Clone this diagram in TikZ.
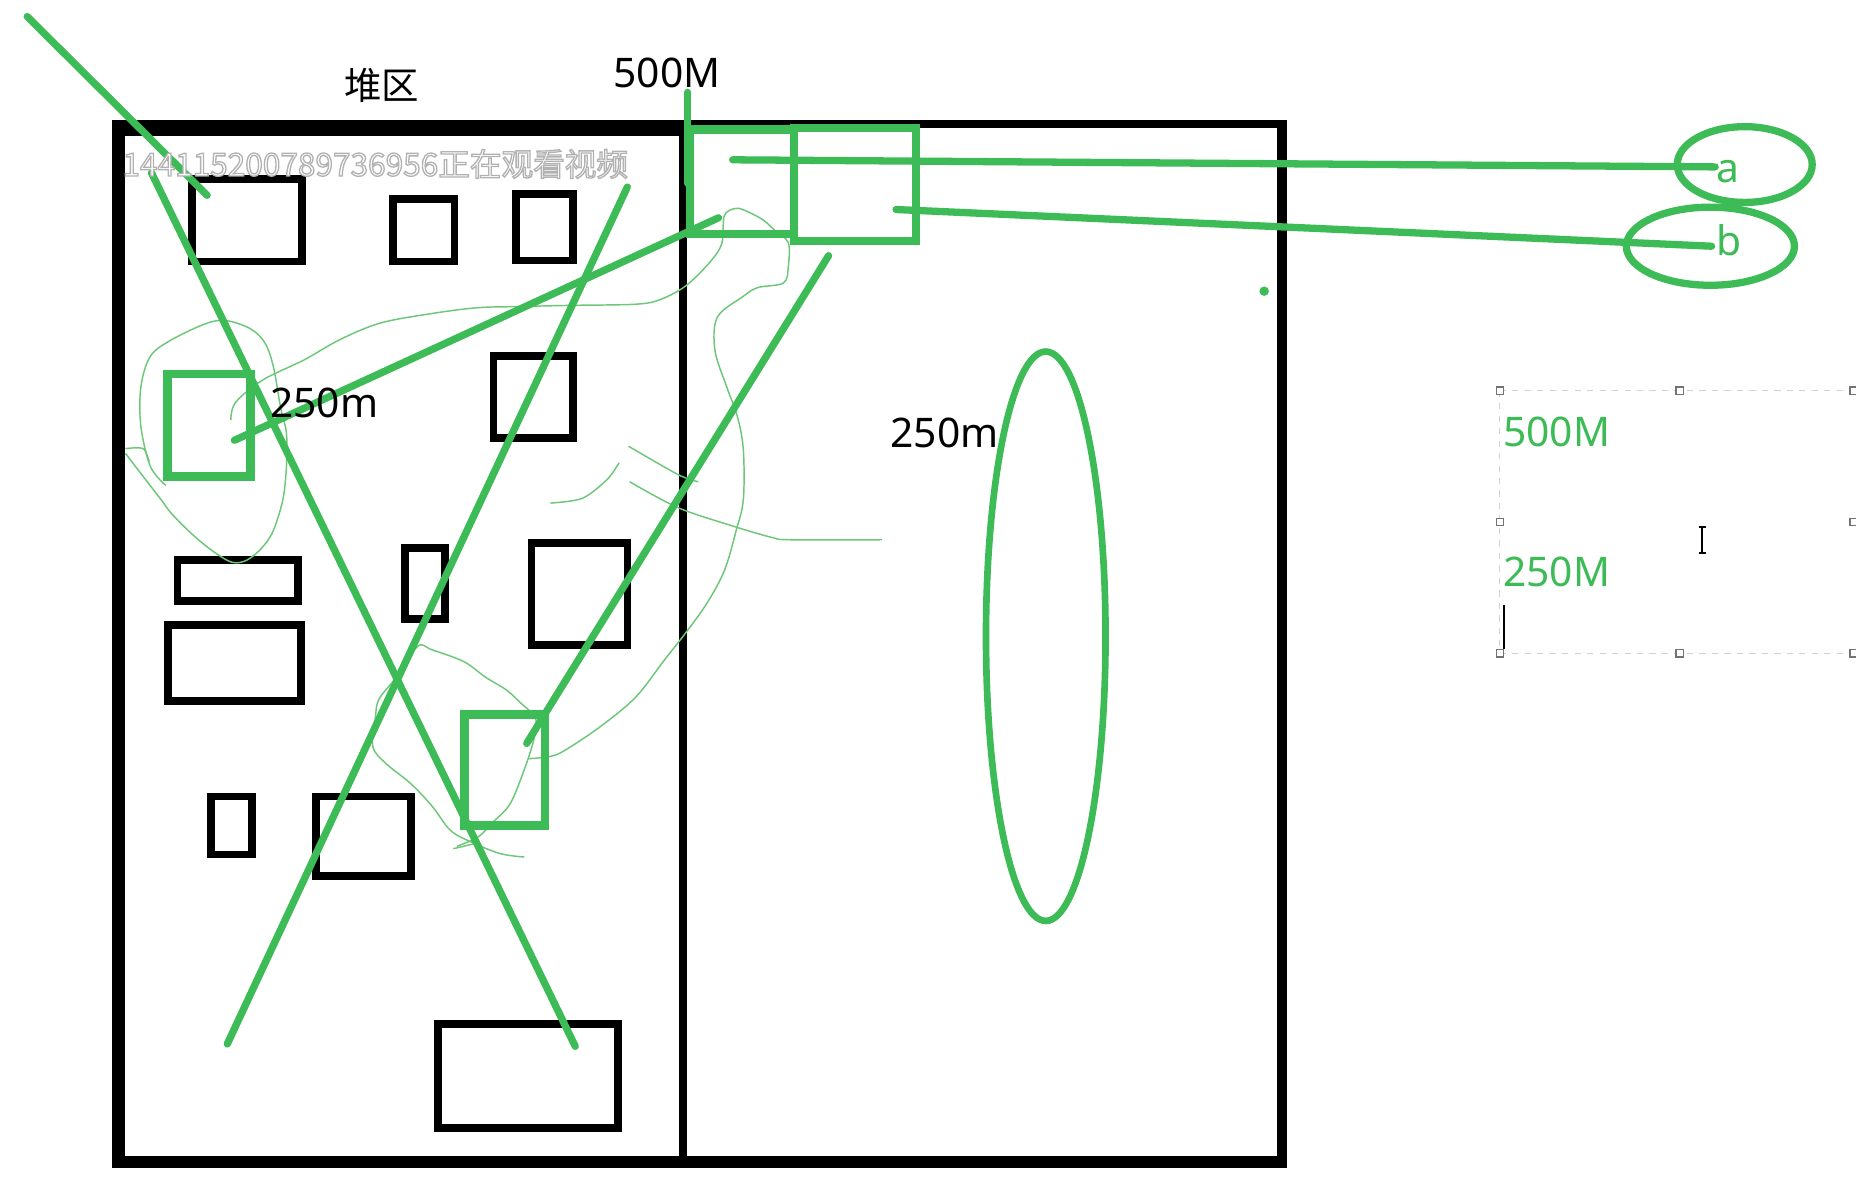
\documentclass[tikz,border=0pt]{standalone}
\usepackage{fontspec}
\setmainfont{Noto Sans}
\newfontfamily\cjk{Noto Sans CJK SC}
\definecolor{gc}{RGB}{61,187,86}
\definecolor{gt}{RGB}{108,199,120}
\newcommand\outlinedtext[1]{\special{pdf:literal direct 2 Tr 0.32 w 0.7 G}#1\special{pdf:literal direct 0 Tr}}
\begin{document}
\begin{tikzpicture}[x=0.1mm,y=-0.1mm,
  blk/.style={draw=black,line width=1.85pt},
  grect/.style={draw=gc,line width=2pt,line join=miter},
  gline/.style={draw=gc,line width=1.75pt,line cap=round},
  thinc/.style={draw=gt,line width=0.35pt},
  lbl/.style={inner sep=0pt,font=\fontsize{9.8}{11}\selectfont},
  glbl/.style={lbl,text=gc},
  wm/.style={inner sep=0pt,font=\cjk\fontsize{7.6}{9}\selectfont},
  hdl/.style={draw=black!55,fill=white,line width=0.3pt},
  selb/.style={draw=black!18,line width=0.3pt,dash pattern=on 1.5pt off 1.5pt}]
\useasboundingbox (0,0) rectangle (1568,1009);
\fill[white] (0,0) rectangle (1568,1009);

% frame
\fill[black] (95,101) rectangle (106,987);
\fill[black] (95,101) rectangle (579,115);
\fill[black] (575,101) rectangle (1087,108);
\fill[black] (1079,101) rectangle (1087,987);
\fill[black] (95,977) rectangle (1087,987);
\fill[black] (574,101) rectangle (580,987);

% black blocks
\draw[blk] (162,151) rectangle (255,221);
\draw[blk] (332,168) rectangle (384,221);
\draw[blk] (436,164) rectangle (484,220);
\draw[blk] (417,301) rectangle (484,370);
\draw[blk] (150,473) rectangle (252,508);
\draw[blk] (142,528) rectangle (254,592);
\draw[blk] (342,463) rectangle (376,523);
\draw[blk] (449,459) rectangle (530,545);
\draw[blk] (178,673) rectangle (213,722);
\draw[blk] (267,673) rectangle (347,740);
\draw[blk] (370,865) rectangle (522,953);

% thin freehand curves
\draw[thinc] plot[smooth,tension=0.55] coordinates {(106,383) (119,400) (136,422) (145,434) (162,451) (179,465) (196,475) (209,473) (222,462) (231,448) (239,422) (242,394) (242,366) (237,344) (231,310) (224,290) (212,278) (192,271) (175,273) (145,287) (127,301) (119,327) (119,360) (127,394) (140,410)};
\draw[thinc] plot[smooth] coordinates {(106,379) (121,379) (126,390)};
\draw[thinc] plot[smooth,tension=0.55] coordinates {(195,355) (199,340) (222,321) (257,304) (287,287) (321,273) (364,265) (403,260) (438,259) (481,258) (537,257) (558,253) (580,241) (601,220) (610,205) (612,182) (622,176) (632,179) (645,186) (655,195) (666,205) (666,225) (662,239) (640,243) (627,251) (606,268) (604,296) (614,327) (623,352) (628,380) (628,422) (622,448) (612,482) (597,510) (579,535) (561,558) (537,589) (507,614) (477,634) (465,639) (447,641)};
\draw[thinc] plot[smooth] coordinates {(465,425) (492,421) (513,405) (523,391)};
\draw[thinc] plot[smooth] coordinates {(531,377) (573,401) (590,407)};
\draw[thinc] plot[smooth] coordinates {(532,407) (573,429) (621,445) (652,454) (667,456) (745,456)};
\draw[thinc] plot[smooth,tension=0.55] coordinates {(443,724) (422,721) (395,710) (380,701) (365,681) (347,662) (326,645) (315,631) (317,608) (320,591) (335,572) (353,546) (365,549) (392,559) (410,572) (428,583) (440,594) (450,603) (453,610) (451,625) (443,650) (431,679) (416,695) (404,707) (386,715)};
\draw[thinc] (383,717) -- (404,712);

% green boxes
\draw[grect] (141.5,316) rectangle (211.5,402.5);
\draw[grect] (392.5,603.5) rectangle (460.5,697.5);
\draw[grect] (583,109.5) rectangle (671,197.5);
\draw[grect] (671,108) rectangle (774,203.5);

% green strokes
\draw[gline] (581,78) -- (581,155);
\draw[gline] (23,14) -- (175,165);
\draw[gline] (128,146) -- (486,884);
\draw[gline] (530,158) -- (192,882);
\draw[gline] (700,216) -- (445,628);
\draw[gline] (607,184) -- (198,372);
\draw[gline] (619,135) -- (1449,141);
\draw[gline] (757,177) -- (1446,208);
\draw[gc,line width=1.75pt] (1474,139) ellipse [x radius=57,y radius=32];
\draw[gc,line width=1.75pt] (1445,208) ellipse [x radius=71,y radius=33];
\draw[gc,line width=1.6pt] (883.5,537.5) ellipse [x radius=50.5,y radius=240.5];
\fill[gc] (1068,246) circle [radius=4];

% labels
\node[inner sep=0pt,font=\cjk\fontsize{9}{10}\selectfont] (heap) at (322.5,72) {堆区};
\node[lbl] (t500) at (563.5,61.5) {500M};
\node[lbl] (t250a) at (274,340) {250m};
\node[lbl] (t250b) at (798,366) {250m};
\node[glbl] (la) at (1459.5,145) {a};
\node[glbl] (lb) at (1461,203) {b};
\node[glbl] (g500) at (1315,364.5) {500M};
\node[glbl] (g250) at (1315,483) {250M};

% selection frame
\draw[selb] (1267,330) -- (1568,330);
\draw[selb] (1267,552) -- (1568,552);
\draw[selb] (1267,330) -- (1267,552);
\foreach \hx/\hy in {1267/330,1419/330,1566/330,1267/441,1566/441,1267/552,1419/552,1566/552}
  \draw[hdl] (\hx-3,\hy-3) rectangle (\hx+3,\hy+3);
\draw[black,line width=0.5pt] (1271,511) -- (1271,548);
\draw[black,line width=0.45pt] (1435,445) -- (1441,445) (1438,445) -- (1438,467) (1435,467) -- (1441,467);

% watermark: white text with a light grey outline
\node[wm,text=white] (wmk) at (317,138.5) {\outlinedtext{144115200789736956正在观看视频}};
\end{tikzpicture}
\end{document}
